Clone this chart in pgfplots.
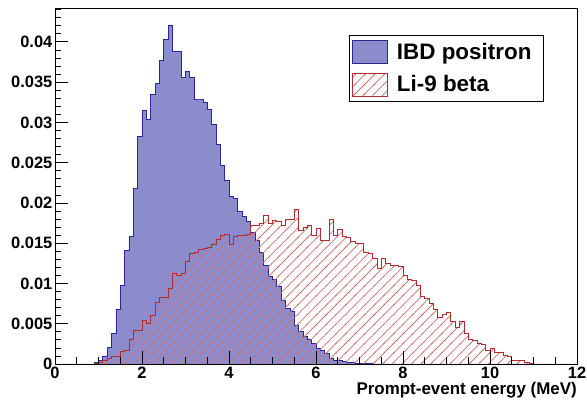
\documentclass[border=0pt]{standalone}
\usepackage{fontspec}
\setmainfont{Liberation Sans}
\usepackage{pgfplots}
\pgfplotsset{compat=1.18}
\usetikzlibrary{patterns.meta}
\definecolor{ibdfill}{RGB}{140,140,205}
\definecolor{ibdline}{RGB}{40,40,155}
\definecolor{liline}{RGB}{175,45,45}
\definecolor{lihatch}{RGB}{210,115,115}
\tikzdeclarepattern{
  name=redhatch, type=colored,
  bottom left={(-1bp,-1bp)}, top right={(10.6bp,10.6bp)},
  tile size={(9.6bp,9.6bp)},
  code={\draw[draw=lihatch, line width=0.75bp] (-1bp,-1bp) -- (10.6bp,10.6bp);}
}
\begin{document}
\begin{tikzpicture}
\path[use as bounding box] (-55bp,-37bp) rectangle (532bp,364bp);
\begin{axis}[
  scale only axis, width=522bp, height=356bp,
  at={(0,0)}, anchor=south west,
  xmin=0, xmax=12, ymin=0, ymax=0.0442,
  xtick={0,2,4,6,8,10,12}, xticklabels={0,2,4,6,8,10,12},
  minor xtick={0.5,1,1.5,2.5,3,3.5,4.5,5,5.5,6.5,7,7.5,8.5,9,9.5,10.5,11,11.5},
  ytick={0,0.005,0.01,0.015,0.02,0.025,0.03,0.035,0.04},
  yticklabels={0,0.005,0.01,0.015,0.02,0.025,0.03,0.035,0.04},
  minor ytick={0.001,0.002,0.003,0.004,0.006,0.007,0.008,0.009,0.011,0.012,0.013,0.014,0.016,0.017,0.018,0.019,0.021,0.022,0.023,0.024,0.026,0.027,0.028,0.029,0.031,0.032,0.033,0.034,0.036,0.037,0.038,0.039,0.041,0.042,0.043,0.044},
  xtick pos=bottom, ytick pos=left, tick align=inside,
  major tick length=13bp, minor tick length=6.5bp,
  axis on top,
  axis line style={line width=0.8pt},
  tick style={black, line width=0.7pt},
  tick label style={font=\bfseries\fontsize{16.5}{18}\selectfont},
  yticklabel style={inner xsep=2.5bp},
  scaled y ticks=false,
  xlabel={Prompt-event energy (MeV)},
  x label style={font=\bfseries\fontsize{17}{19}\selectfont, at={(axis description cs:1,0)}, anchor=base east, yshift=-31bp, inner sep=0pt},
  legend style={at={(axis description cs:0.563,0.924)}, anchor=north west, draw=black, line width=0.6pt, fill=white,
    font=\bfseries\fontsize{22.5}{26}\selectfont, inner xsep=3bp, inner ysep=4.5bp, row sep=9bp,
    /tikz/every odd column/.append style={column sep=7bp}},
  legend cell align=left,
]
\addplot[const plot, draw=ibdline, line width=0.8pt, fill=ibdfill,
  legend image code/.code={\draw[fill=ibdfill, draw=ibdline, line width=0.8pt] (0bp,-11.5bp) rectangle (35bp,11.5bp);}]
coordinates {
(0,0) (0.9,0.0002) (1.0,0.0004) (1.1,0.0010) (1.2,0.0021) (1.3,0.0038) (1.4,0.0068)
(1.5,0.0098) (1.6,0.0141) (1.7,0.0158) (1.8,0.0218) (1.9,0.0283) (2.0,0.0315)
(2.1,0.0304) (2.2,0.0335) (2.3,0.0348) (2.4,0.0377) (2.5,0.0403) (2.6,0.0421)
(2.7,0.0388) (2.8,0.0388) (2.9,0.0356) (3.0,0.0363) (3.1,0.0356) (3.2,0.0329)
(3.3,0.0329) (3.4,0.0325) (3.5,0.0316) (3.6,0.0298) (3.7,0.0273) (3.8,0.0247)
(3.9,0.0228) (4.0,0.0208) (4.1,0.0206) (4.2,0.0190) (4.3,0.0183) (4.4,0.0177)
(4.5,0.0163) (4.6,0.0153) (4.7,0.0139) (4.8,0.0123) (4.9,0.0109) (5.0,0.0105)
(5.1,0.0096) (5.2,0.0079) (5.3,0.0069) (5.4,0.0065) (5.5,0.0048) (5.6,0.0040)
(5.7,0.0034) (5.8,0.0031) (5.9,0.0026) (6.0,0.0019) (6.1,0.0017) (6.2,0.0013)
(6.3,0.0007) (6.4,0.0005) (6.5,0.0004) (6.6,0.0003) (6.7,0.0002) (6.8,0.0002)
(6.9,0.0001) (7.0,0.0001) (7.1,0.0001) (7.2,0.0001) (7.3,0) (12,0)
} \closedcycle;
\addlegendentry{IBD positron\hspace*{7bp}}
\addplot[const plot, draw=liline, line width=0.8pt, pattern=redhatch,
  legend image code/.code={\draw[pattern=redhatch, draw=liline, line width=0.8pt] (0bp,-11.5bp) rectangle (35bp,11.5bp);}]
coordinates {
(0,0) (0.9,0.0001) (1.0,0.0002) (1.1,0.0005) (1.2,0.0007) (1.3,0.0009) (1.4,0.0010)
(1.5,0.0016) (1.6,0.0017) (1.7,0.0031) (1.8,0.0042) (1.9,0.0042) (2.0,0.0054)
(2.1,0.0050) (2.2,0.0060) (2.3,0.0076) (2.4,0.0083) (2.5,0.0083) (2.6,0.0094)
(2.7,0.0113) (2.8,0.0110) (2.9,0.0112) (3.0,0.0128) (3.1,0.0137) (3.2,0.0139)
(3.3,0.0142) (3.4,0.0144) (3.5,0.0145) (3.6,0.0148) (3.7,0.0155) (3.8,0.0160)
(3.9,0.0161) (4.0,0.0148) (4.1,0.0158) (4.2,0.0160) (4.3,0.0160) (4.4,0.0161)
(4.5,0.0172) (4.6,0.0172) (4.7,0.0175) (4.8,0.0185) (4.9,0.0175) (5.0,0.0178)
(5.1,0.0177) (5.2,0.0172) (5.3,0.0179) (5.4,0.0180) (5.5,0.0192) (5.6,0.0166)
(5.7,0.0170) (5.8,0.0172) (5.9,0.0160) (6.0,0.0168) (6.1,0.0154) (6.2,0.0154)
(6.3,0.0180) (6.4,0.0160) (6.5,0.0167) (6.6,0.0158) (6.7,0.0157) (6.8,0.0152)
(6.9,0.0150) (7.0,0.0150) (7.1,0.0139) (7.2,0.0137) (7.3,0.0131) (7.4,0.0119)
(7.5,0.0131) (7.6,0.0125) (7.7,0.0123) (7.8,0.0123) (7.9,0.0121) (8.0,0.0110)
(8.1,0.0105) (8.2,0.0104) (8.3,0.0098) (8.4,0.0084) (8.5,0.0081) (8.6,0.0075)
(8.7,0.0068) (8.8,0.0058) (8.9,0.0062) (9.0,0.0064) (9.1,0.0053) (9.2,0.0046)
(9.3,0.0053) (9.4,0.0038) (9.5,0.0031) (9.6,0.0029) (9.7,0.0025) (9.8,0.0024)
(9.9,0.0017) (10.0,0.0019) (10.1,0.0015) (10.2,0.0015) (10.3,0.0011) (10.4,0.0009)
(10.5,0.0005) (10.6,0.0004) (10.7,0.0004) (10.8,0.0002) (10.9,0.0001) (11.0,0) (12,0)
} \closedcycle;
\addlegendentry{Li-9 beta}
\end{axis}
\end{tikzpicture}
\end{document}
